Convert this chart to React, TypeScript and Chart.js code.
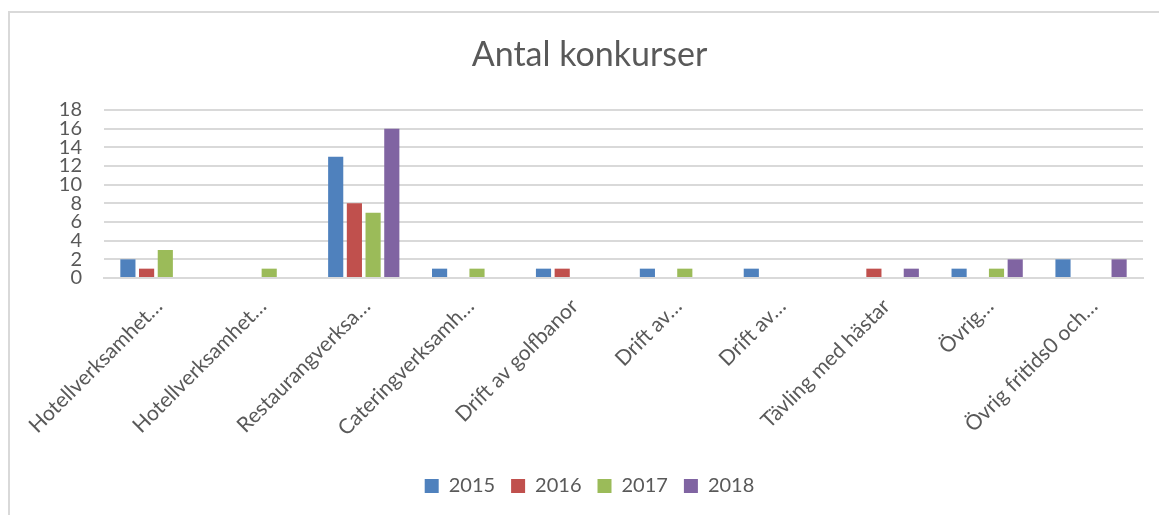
import React, { useEffect, useRef } from "react";
import { Chart, registerables } from "chart.js";

Chart.register(...registerables);

const categories = [
  "Hotellverksamhet…",
  "Hotellverksamhet…",
  "Restaurangverksa…",
  "Cateringverksamh…",
  "Drift av golfbanor",
  "Drift av…",
  "Drift av…",
  "Tävling med hästar",
  "Övrig…",
  "Övrig fritids0 och…",
];
const seriesNames = ["2015", "2016", "2017", "2018"];
const values2015 = [2, 0, 13, 1, 1, 1, 1, 0, 1, 2];
const values2016 = [1, 0, 8, 0, 1, 0, 0, 1, 0, 0];
const values2017 = [3, 1, 7, 1, 0, 1, 0, 0, 1, 0];
const values2018 = [0, 0, 16, 0, 0, 0, 0, 1, 2, 2];
const seriesColors = ["#4F81BD", "#C0504D", "#9BBB59", "#8064A2"];
const yTicks = [0, 2, 4, 6, 8, 10, 12, 14, 16, 18];

const FONT = "Lato, 'Open Sans', sans-serif";
const TEXT = "#595959";
const PAD_LEFT = 36;

export default function App() {
  const ref = useRef<HTMLCanvasElement | null>(null);
  useEffect(() => {
    if (!ref.current) return;
    const allValues = [values2015, values2016, values2017, values2018];
    const chart = new Chart(ref.current, {
      type: "bar",
      data: {
        labels: categories,
        datasets: seriesNames.map((name, i) => ({
          label: name,
          data: allValues[i],
          backgroundColor: seriesColors[i],
          categoryPercentage: 0.72,
          barPercentage: 0.81,
        })),
      },
      options: {
        responsive: false,
        animation: false,
        layout: { padding: { left: PAD_LEFT, right: 16, top: 0, bottom: 9 } },
        plugins: {
          title: {
            display: true,
            text: "Antal konkurser",
            color: TEXT,
            font: { family: FONT, size: 34, weight: "normal" },
            padding: { top: 34.6, bottom: 34.6 },
          },
          legend: {
            position: "bottom",
            labels: {
              color: TEXT,
              font: { family: FONT, size: 20 },
              boxWidth: 14,
              boxHeight: 14,
              padding: 16,
            },
          },
          tooltip: { enabled: false },
        },
        scales: {
          x: {
            grid: { display: false, drawTicks: false },
            border: { display: true, color: "#d9d9d9", width: 2 },
            ticks: {
              color: TEXT,
              font: { family: FONT, size: 21 },
              autoSkip: false,
              minRotation: 45,
              maxRotation: 45,
              padding: 16,
              labelOffset: 3,
            },
            afterFit: (scale: any) => {
              scale.height = 182;
            },
          },
          y: {
            min: 0,
            max: 18,
            afterBuildTicks: (scale: any) => {
              scale.ticks = yTicks.map((v) => ({ value: v }));
            },
            grid: { color: "#d9d9d9", lineWidth: 2, drawTicks: false },
            border: { display: false },
            ticks: {
              color: TEXT,
              font: { family: FONT, size: 20, lineHeight: 1 },
              padding: 22,
              autoSkip: false,
            },
            afterFit: (scale: any) => {
              scale.width = 104 - PAD_LEFT;
            },
          },
        },
      },
    });
    return () => chart.destroy();
  }, []);
  return (
    <div style={{ position: "fixed", left: 0, top: 0, width: 1159, height: 515, background: "#fff" }}>
      <div
        style={{
          position: "absolute",
          left: 8,
          top: 11,
          width: 1300,
          height: 700,
          border: "2px solid #d9d9d9",
        }}
      />
      <canvas ref={ref} width={1159} height={515} style={{ position: "absolute", left: 0, top: 0 }} />
    </div>
  );
}
